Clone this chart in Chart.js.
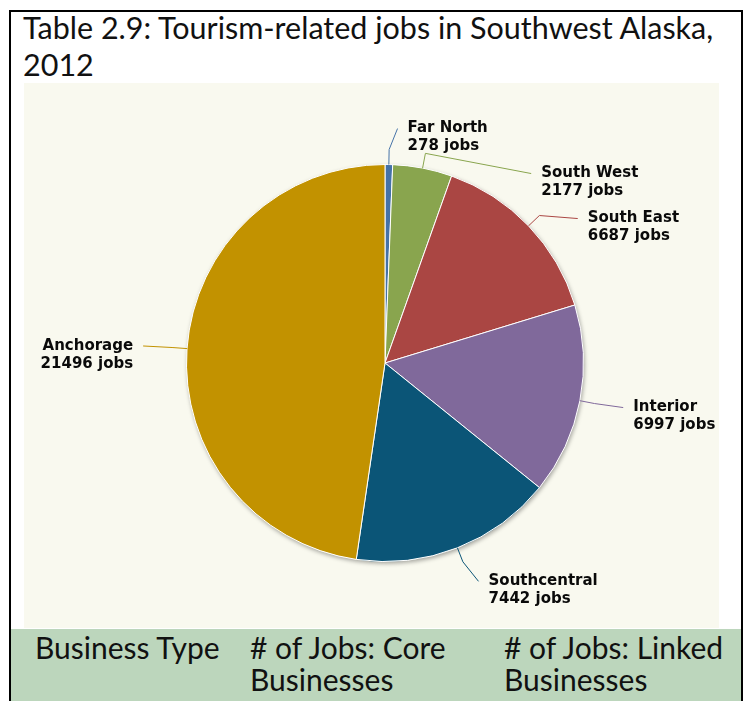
<!DOCTYPE html>
<html>
<head>
<meta charset="utf-8">
<script src="https://cdn.jsdelivr.net/npm/chart.js@4"></script>
<style>
  body { margin: 0; background: #ffffff; width: 747px; height: 701px; overflow: hidden; position: relative; }
  .edge { position: absolute; background: #000000; }
  #title { position: absolute; left: 23px; top: 9px; font-family: Lato, sans-serif; font-size: 30.5px; line-height: 37px; color: #111111; white-space: nowrap; }
  #plot { position: absolute; left: 24px; top: 83px; width: 695px; height: 545px; background: #f9f9ef; }
  #head { position: absolute; left: 11px; top: 629px; width: 730px; height: 80px; background: #bcd6bc; }
  .cell { position: absolute; top: 2px; font-family: Lato, sans-serif; font-size: 30px; line-height: 32px; color: #111111; white-space: nowrap; }
</style>
</head>
<body>
<div class="edge" style="left:9px; top:10px; width:734px; height:2px;"></div>
<div class="edge" style="left:9px; top:10px; width:2px; height:700px;"></div>
<div class="edge" style="left:741px; top:10px; width:2px; height:700px;"></div>
<div id="title">Table 2.9: Tourism-related jobs in Southwest Alaska,<br>2012</div>
<div id="plot"><canvas id="pieChart" width="695" height="545"></canvas></div>
<div id="head">
  <div class="cell" style="left:24px;">Business Type</div>
  <div class="cell" style="left:239px;"># of Jobs: Core<br>Businesses</div>
  <div class="cell" style="left:493px;"># of Jobs: Linked<br>Businesses</div>
</div>
<script>
const regions = ['Far North', 'South West', 'South East', 'Interior', 'Southcentral', 'Anchorage'];
const jobs = [278, 2177, 6687, 6997, 7442, 21496];
const sliceColors = ['#4572a7', '#89a54e', '#aa4643', '#80699b', '#0b5577', '#c29200'];

// shadow behind the pie, like the original chart
const pieShadow = {
  id: 'pieShadow',
  beforeDatasetsDraw(chart) {
    const arc = chart.getDatasetMeta(0).data[0];
    const ctx = chart.ctx;
    ctx.save();
    ctx.shadowColor = 'rgba(0,0,0,0.35)';
    ctx.shadowBlur = 4;
    ctx.shadowOffsetX = 1;
    ctx.shadowOffsetY = 2;
    ctx.fillStyle = '#f9f9ef';
    ctx.beginPath();
    ctx.arc(arc.x, arc.y, arc.outerRadius, 0, Math.PI * 2);
    ctx.fill();
    ctx.restore();
  }
};

// outside labels with connectors
const sliceLabels = {
  id: 'sliceLabels',
  afterDatasetsDraw(chart) {
    const ctx = chart.ctx;
    const arcs = chart.getDatasetMeta(0).data;
    const reach = 36, crook = 15, gap = 45, pad = 18;
    const items = arcs.map((arc, i) => {
      const mid = (arc.startAngle + arc.endAngle) / 2;
      const c = Math.cos(mid), s = Math.sin(mid);
      const r = arc.outerRadius;
      return {
        i, arc, right: c >= 0,
        ex: arc.x + c * r, ey: arc.y + s * r,
        bx: arc.x + c * (r + crook), by: arc.y + s * (r + crook),
        y: arc.y + s * (r + reach)
      };
    });
    [true, false].forEach(side => {
      const list = items.filter(it => it.right === side).sort((a, b) => a.y - b.y);
      for (let k = 1; k < list.length; k++) {
        list[k].y = Math.max(list[k].y, list[k - 1].y + gap);
      }
    });
    ctx.save();
    ctx.font = 'bold 15px "DejaVu Sans", Verdana, sans-serif';
    ctx.textBaseline = 'middle';
    items.forEach(it => {
      const R = it.arc.outerRadius + reach;
      const dy = Math.max(-R, Math.min(R, it.y - it.arc.y));
      const dir = it.right ? 1 : -1;
      const tx = it.arc.x + dir * (Math.sqrt(R * R - dy * dy) + pad);
      const lx = tx - dir * 10;
      ctx.strokeStyle = sliceColors[it.i];
      ctx.lineWidth = 1;
      ctx.beginPath();
      ctx.moveTo(it.ex, it.ey);
      ctx.lineTo(it.bx, it.by);
      ctx.lineTo(lx, it.y);
      ctx.stroke();
      ctx.fillStyle = '#0a0a0a';
      ctx.textAlign = it.right ? 'left' : 'right';
      ctx.fillText(regions[it.i], tx, it.y);
      ctx.fillText(jobs[it.i] + ' jobs', tx, it.y + 18);
    });
    ctx.restore();
  }
};

const pieChart = new Chart(document.getElementById('pieChart'), {
  type: 'pie',
  data: {
    labels: regions,
    datasets: [{
      data: jobs,
      backgroundColor: sliceColors,
      borderColor: '#ffffff',
      borderWidth: 1
    }]
  },
  options: {
    responsive: false,
    animation: false,
    events: [],
    layout: {
      padding: { left: 162, right: 135, top: 81, bottom: 66 }
    },
    plugins: {
      legend: { display: false },
      tooltip: { enabled: false },
      title: { display: false }
    }
  },
  plugins: [pieShadow, sliceLabels]
});
</script>
</body>
</html>
